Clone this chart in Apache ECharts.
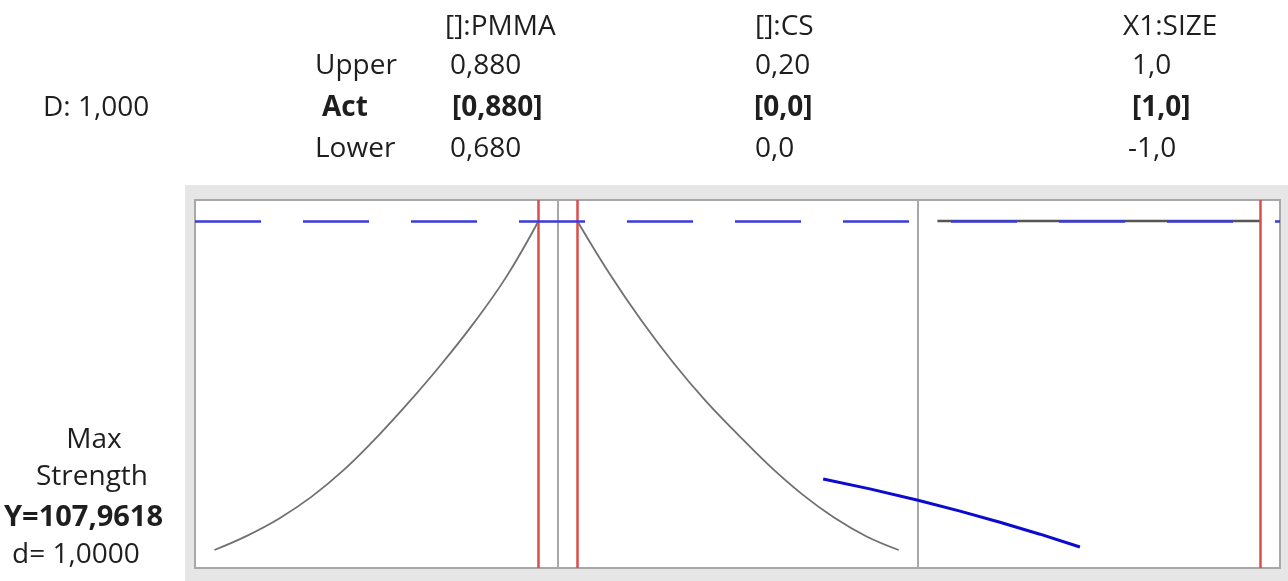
<!DOCTYPE html>
<html>
<head>
<meta charset="utf-8">
<script src="https://cdn.jsdelivr.net/npm/echarts@6/dist/echarts.min.js"></script>
<style>
html,body{margin:0;padding:0;background:#fff;}
#chart{width:1288px;height:581px;}
</style>
</head>
<body>
<div id="chart"></div>
<script>
// ---- data ----
const factorNames = ['[]:PMMA', '[]:CS', 'X1:SIZE'];
const upperLabels = ['0,880', '0,20', '1,0'];
const actLabels = ['[0,880]', '[0,0]', '[1,0]'];
const lowerLabels = ['0,680', '0,0', '-1,0'];
const actVals = [0.880, 0.0, 1.0];
const compositeLabel = 'D: 1,000';
const responseName = 'Strength';
const goal = 'Max';
const predictedY = 107.9618;
const predictedLabel = 'Y=107,9618';
const desirabilityLabel = 'd= 1,0000';

// PMMA profile
const pmmaX = [0.68, 0.70, 0.72, 0.74, 0.76, 0.78, 0.80, 0.82, 0.84, 0.86, 0.88];
const pmmaY = [5.60, 10.0, 15.4, 22.2, 30.6, 40.6, 51.6, 63.4, 76.2, 90.5, 107.96];
// CS profile
const csX = [0.00, 0.02, 0.04, 0.06, 0.08, 0.10, 0.12, 0.14, 0.16, 0.18, 0.20];
const csY = [107.96, 91.6, 76.9, 63.7, 51.9, 41.5, 31.6, 22.9, 15.6, 9.8, 5.60];
// SIZE profile
const sizeX = [-1.0, 1.0];
const sizeY = [107.96, 107.96];
// blue solid trace (spans CS and SIZE panels)
const traceCsX = [0.153, 0.182, 0.212];
const traceCsY = [27.69, 24.61, 21.10];
const traceSizeX = [-1.12, -0.860, -0.613, -0.365, -0.118];
const traceSizeY = [21.10, 17.70, 14.22, 10.52, 6.53];

// ---- helpers ----
function pairs(xs, ys) { return xs.map((x, i) => [x, ys[i]]); }

const FONT = '"Open Sans", "Noto Sans", sans-serif';
const yMin = 0, yMax = 114.5;

// panel geometry
const panels = [
  { left: 195, width: 363, xmin: 0.668, xmax: 0.892, dashOffset: 0 },
  { left: 558, width: 360, xmin: -0.012, xmax: 0.212, dashOffset: 39 },
  { left: 918, width: 362, xmin: -1.12, xmax: 1.12, dashOffset: 75 }
];
const colX = [
  { name: 445, upper: 450, act: 452, lower: 450 },
  { name: 755, upper: 755, act: 754, lower: 755 },
  { name: 1123, upper: 1132, act: 1132, lower: 1128 }
];

const grids = panels.map(p => ({
  left: p.left, top: 200, width: p.width, height: 368,
  show: true, backgroundColor: '#ffffff', borderColor: '#a8a8a8', borderWidth: 2
}));
const xAxes = panels.map((p, i) => ({
  type: 'value', gridIndex: i, min: p.xmin, max: p.xmax, show: false
}));
const yAxes = panels.map((p, i) => ({
  type: 'value', gridIndex: i, min: yMin, max: yMax, show: false
}));

const profileData = [pairs(pmmaX, pmmaY), pairs(csX, csY), pairs(sizeX, sizeY)];
const series = [];
profileData.forEach((d, i) => {
  series.push({
    type: 'line', xAxisIndex: i, yAxisIndex: i, data: d, showSymbol: false,
    smooth: 0.4,
    lineStyle: { color: i === 2 ? '#555555' : '#707070', width: i === 2 ? 2.5 : 1.8 },
    z: 2,
    markLine: {
      silent: true, symbol: ['none', 'none'], label: { show: false },
      animation: false,
      data: [{ xAxis: actVals[i] }],
      lineStyle: { color: '#dc4d48', width: 2.5, type: 'solid' }
    }
  });
  // blue dashed predicted response line
  series.push({
    type: 'line', xAxisIndex: i, yAxisIndex: i, data: [], showSymbol: false,
    z: 4,
    markLine: {
      silent: true, symbol: ['none', 'none'], label: { show: false },
      animation: false,
      data: [{ yAxis: predictedY }],
      lineStyle: { color: '#3a3ae0', width: 2.5, type: [66, 42], dashOffset: panels[i].dashOffset }
    }
  });
});
series.push({
  type: 'line', xAxisIndex: 1, yAxisIndex: 1, data: pairs(traceCsX, traceCsY),
  showSymbol: false, lineStyle: { color: '#0a0ad0', width: 3 }, z: 5, clip: false
});
series.push({
  type: 'line', xAxisIndex: 2, yAxisIndex: 2, data: pairs(traceSizeX, traceSizeY),
  showSymbol: false, lineStyle: { color: '#0a0ad0', width: 3 }, z: 5, clip: false
});

// text
function txt(text, x, y, opts) {
  opts = opts || {};
  return {
    type: 'text', x: x, y: y, z: 10,
    style: {
      text: text, fill: '#1e1e1e',
      font: (opts.bold ? 'bold ' : 'normal ') + (opts.size || 28) + 'px ' + FONT,
      textAlign: opts.align || 'left', textVerticalAlign: 'middle'
    }
  };
}
const graphics = [
  { type: 'rect', z: -10, shape: { x: 185, y: 185, width: 1103, height: 396 }, style: { fill: '#e6e6e6' } },
  txt(compositeLabel, 43, 108),
  txt('Upper', 315, 66),
  txt('Act', 322, 108, { bold: true }),
  txt('Lower', 315, 149),
  txt(goal, 94, 440, { align: 'center' }),
  txt(responseName, 92, 477, { align: 'center' }),
  txt(predictedLabel, 4, 518, { bold: true, size: 29 }),
  txt(desirabilityLabel, 12, 555)
];
factorNames.forEach((n, i) => {
  graphics.push(txt(n, colX[i].name, 27));
  graphics.push(txt(upperLabels[i], colX[i].upper, 66));
  graphics.push(txt(actLabels[i], colX[i].act, 108, { bold: true }));
  graphics.push(txt(lowerLabels[i], colX[i].lower, 149));
});

const chart = echarts.init(document.getElementById('chart'), null, { renderer: 'canvas' });
chart.setOption({
  animation: false,
  backgroundColor: '#ffffff',
  grid: grids,
  xAxis: xAxes,
  yAxis: yAxes,
  series: series,
  graphic: graphics
});
</script>
</body>
</html>
